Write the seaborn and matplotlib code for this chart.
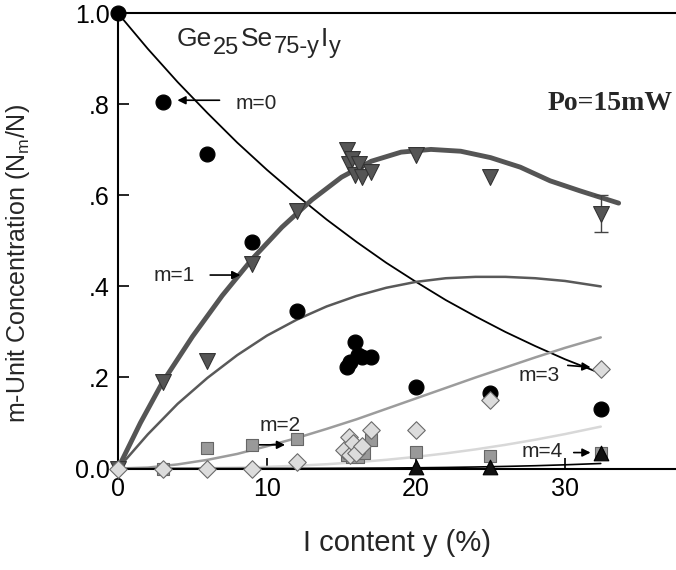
import matplotlib
matplotlib.use("Agg")
import matplotlib.pyplot as plt
import seaborn as sns
import pandas as pd

# measured points, x = I content y (%)
m0_x = [0, 3, 6, 9, 12, 15.4, 15.6, 15.9, 16.1, 16.4, 17.0, 20, 25, 32.4]
m0_y = [1.0, 0.805, 0.692, 0.497, 0.347, 0.222, 0.234, 0.278, 0.25, 0.245, 0.245, 0.18, 0.166, 0.13]

m1_x = [0, 3, 6, 9, 12, 15.35, 15.5, 15.7, 15.9, 16.2, 16.35, 17.0, 20, 25, 32.4]
m1_y = [0.0, 0.19, 0.237, 0.45, 0.565, 0.699, 0.67, 0.68, 0.644, 0.67, 0.64, 0.652, 0.688, 0.64, 0.56]
m1_err = 0.04  # error bar on last point

m2_x = [3, 6, 9, 12, 15.4, 15.7, 16.1, 16.5, 17.0, 20, 25, 32.4]
m2_y = [0.0, 0.046, 0.052, 0.065, 0.03, 0.026, 0.026, 0.035, 0.063, 0.037, 0.027, 0.033]

m3_x = [0, 3, 6, 9, 12, 15.2, 15.5, 15.6, 15.8, 16.0, 16.4, 17.0, 20, 25, 32.4]
m3_y = [0.0, 0.0, 0.0, 0.0, 0.015, 0.04, 0.07, 0.03, 0.055, 0.035, 0.05, 0.085, 0.085, 0.15, 0.218]

m4_x = [20, 25, 32.4]
m4_y = [0.004, 0.004, 0.033]

# curves
cx = [0, 2, 4, 6, 8, 10, 12, 14, 16, 18, 20, 22, 24, 26, 28, 30, 32.4]
c0 = [1.0, 0.922, 0.849, 0.781, 0.716, 0.656, 0.600, 0.547, 0.498, 0.452, 0.410, 0.370, 0.334, 0.300, 0.269, 0.240, 0.209]
c1 = [0.0, 0.075, 0.142, 0.199, 0.249, 0.292, 0.327, 0.356, 0.379, 0.397, 0.410, 0.418, 0.421, 0.421, 0.418, 0.412, 0.400]
c2 = [0.0, 0.002, 0.009, 0.019, 0.032, 0.049, 0.067, 0.087, 0.108, 0.131, 0.154, 0.177, 0.200, 0.222, 0.244, 0.265, 0.288]
c3 = [0.0, 0.0, 0.0002, 0.0008, 0.0019, 0.0036, 0.0061, 0.0094, 0.0138, 0.0191, 0.0256, 0.0332, 0.042, 0.052, 0.0632, 0.0756, 0.092]
c4 = [0.0, 0.0, 0.0, 0.0, 0.0, 0.0001, 0.0002, 0.0004, 0.0007, 0.001, 0.0016, 0.0023, 0.0033, 0.0046, 0.0061, 0.0081, 0.011]

fit_x = [0, 1.5, 3, 5, 7, 9, 11, 13, 15, 17, 19, 21, 23, 25, 27, 29, 31, 33.6]
fit_y = [0.0, 0.10, 0.19, 0.29, 0.38, 0.46, 0.53, 0.59, 0.64, 0.675, 0.695, 0.701, 0.697, 0.683, 0.662, 0.632, 0.610, 0.583]

ytick_vals = [0.0, 0.2, 0.4, 0.6, 0.8, 1.0]
ytick_text = ["0.0", ".2", ".4", ".6", ".8", "1.0"]
xtick_vals = [0, 10, 20, 30]

# formula pieces: (text, lowered?)
title_parts = [("Ge", False), ("25", True), ("Se", False), ("75-y", True), ("I", False), ("y", True)]

sns.set_style("ticks")
plt.rcParams["font.family"] = ["Liberation Sans", "DejaVu Sans"]
plt.rcParams["mathtext.fontset"] = "custom"
plt.rcParams["mathtext.rm"] = "Liberation Sans"
plt.rcParams["mathtext.it"] = "Liberation Sans"

W, H = 676, 570
fig = plt.figure(figsize=(W / 100, H / 100), dpi=100)
ax = fig.add_axes([118 / W, 101.5 / H, 558 / W, 455.2 / H])

# theory curves
curves = pd.DataFrame({"x": cx, "c0": c0, "c1": c1, "c2": c2, "c3": c3, "c4": c4})
sns.lineplot(data=curves, x="x", y="c0", color="black", lw=1.3, ax=ax, zorder=2)
sns.lineplot(data=curves, x="x", y="c1", color="#595959", lw=1.8, ax=ax, zorder=2)
sns.lineplot(data=curves, x="x", y="c2", color="#9c9c9c", lw=1.8, ax=ax, zorder=2)
sns.lineplot(data=curves, x="x", y="c3", color="#d8d8d8", lw=1.8, ax=ax, zorder=2)
sns.lineplot(data=curves, x="x", y="c4", color="black", lw=1.2, ax=ax, zorder=2)
sns.lineplot(x=fit_x, y=fit_y, color="#555555", lw=3.5, ax=ax, zorder=2)

# measured points
ax.errorbar(m1_x[-1], m1_y[-1], yerr=m1_err, color="#444444", lw=1, capsize=5, zorder=3)
sns.scatterplot(x=m0_x, y=m0_y, marker="o", s=115, color="black", edgecolor="black", ax=ax, zorder=4)
sns.scatterplot(x=m1_x, y=m1_y, marker="v", s=130, color="#555555", edgecolor="#333333", lw=0.8, ax=ax, zorder=5)
sns.scatterplot(x=m2_x, y=m2_y, marker="s", s=85, color="#999999", edgecolor="#666666", lw=0.8, ax=ax, zorder=6)
sns.scatterplot(x=m3_x, y=m3_y, marker="D", s=80, color="#dcdcdc", edgecolor="#6a6a6a", lw=0.8, ax=ax, zorder=7)
sns.scatterplot(x=m4_x, y=m4_y, marker="^", s=110, color="#111111", edgecolor="black", ax=ax, zorder=8)
for coll in ax.collections:
    coll.set_clip_on(False)

ax.set_xlim(0, 37.45)
ax.set_ylim(0, 1.0)
ax.set_xticks(xtick_vals)
ax.set_xticklabels([str(v) for v in xtick_vals])
ax.set_yticks(ytick_vals)
ax.set_yticklabels(ytick_text)
ax.tick_params(direction="in", length=8, width=1.2, labelsize=18, pad=6, colors="black")
ax.spines["right"].set_visible(False)
for side in ["left", "bottom", "top"]:
    ax.spines[side].set_linewidth(1.5)
    ax.spines[side].set_color("black")
ax.set_xlabel("I content y (%)", fontsize=21, labelpad=20)
ax.set_ylabel("m-Unit Concentration (N$_\\mathrm{m}$/N)", fontsize=18)
ax.yaxis.set_label_coords(-0.155, 0.45)

# labels and arrows
arrow = dict(arrowstyle="-|>", color="black", lw=1.2, mutation_scale=12)
ax.annotate("", xy=(3.8, 0.809), xytext=(7.0, 0.809), arrowprops=arrow)
ax.text(9.3, 0.802, "m=0", fontsize=15, ha="center", va="center")
ax.annotate("", xy=(8.4, 0.425), xytext=(6.0, 0.425), arrowprops=arrow)
ax.text(3.8, 0.425, "m=1", fontsize=15, ha="center", va="center")
ax.annotate("", xy=(11.4, 0.052), xytext=(9.0, 0.052), arrowprops=arrow)
ax.text(10.9, 0.095, "m=2", fontsize=15, ha="center", va="center")
ax.annotate("", xy=(31.9, 0.222), xytext=(30.0, 0.227), arrowprops=arrow)
ax.text(28.3, 0.205, "m=3", fontsize=15, ha="center", va="center")
ax.annotate("", xy=(31.9, 0.035), xytext=(30.4, 0.035), arrowprops=arrow)
ax.text(28.5, 0.037, "m=4", fontsize=15, ha="center", va="center")

# composition label, pieced together so the subscripts stay large
renderer = fig.canvas.get_renderer()
px, base = 177.0, 46.5
for part, low in title_parts:
    size = 17 if low else 19
    py = base + (7 if low else 0)
    t = fig.text(px / W, 1 - py / H, part, fontsize=size, ha="left", va="baseline")
    px += t.get_window_extent(renderer).width + 1

ax.text(37.25, 0.787, "Po=15mW", fontsize=20, fontweight="bold", family="Liberation Serif",
        ha="right", va="baseline")

fig.savefig("out.png", dpi=100)
